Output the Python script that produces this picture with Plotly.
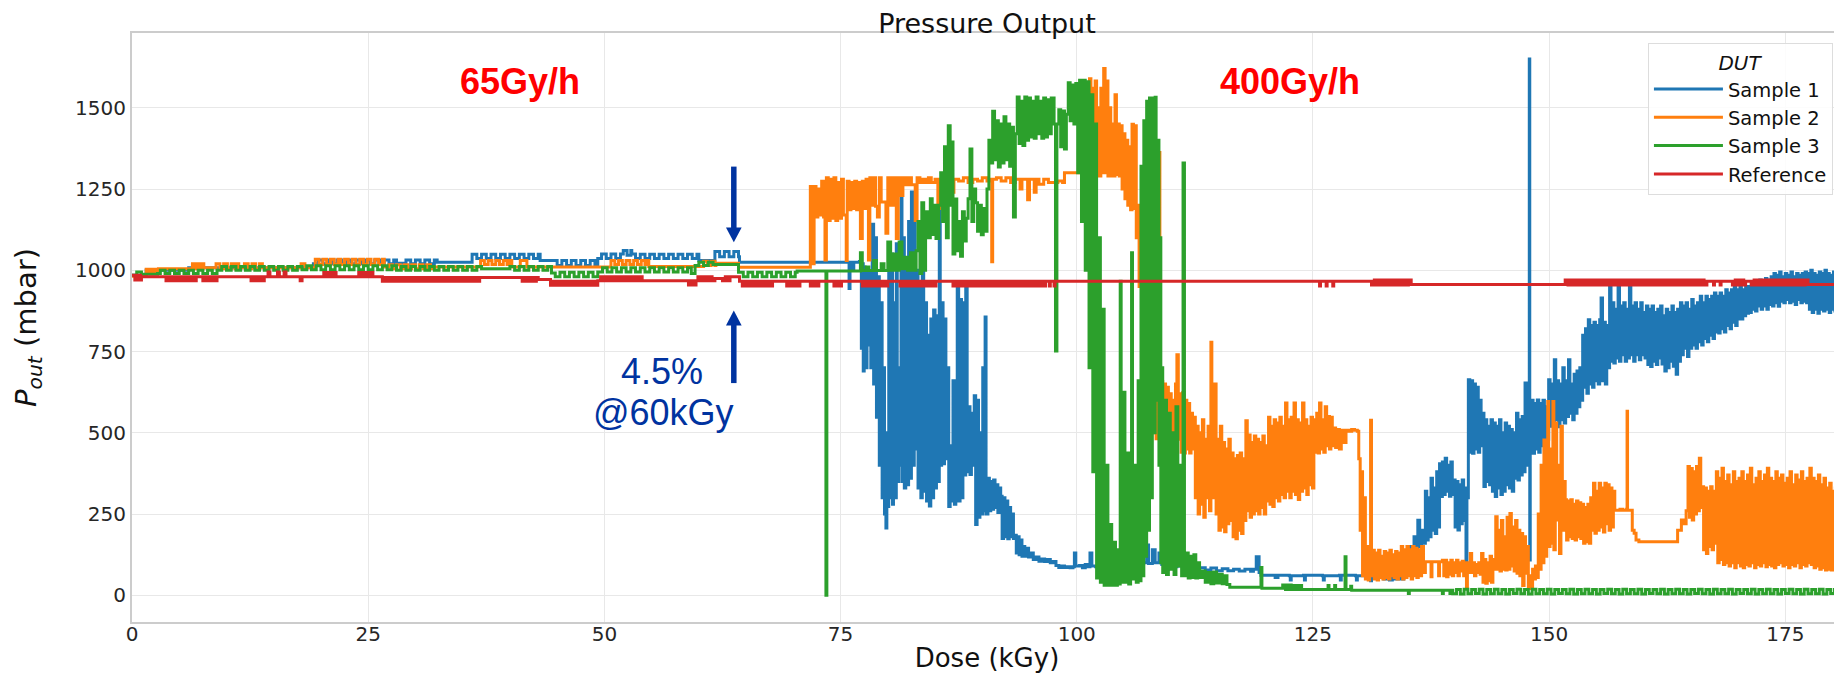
import plotly.graph_objects as go

# ---------------- data (dose kGy, pressure mbar) ----------------
sample1_points = [
    (0.0, 985), (1.5, 1000), (6.0, 1008), (19.0, 1008),
    (19.2, 1020), (19.7, 1032), (20.2, 1020), (20.7, 1032), (21.2, 1020), (21.7, 1032), (22.2, 1020), (22.7, 1032),
    (23.2, 1020), (23.7, 1032), (24.2, 1020), (24.7, 1032), (25.2, 1020), (25.7, 1032), (26.2, 1020), (26.7, 1032),
    (27.2, 1020), (27.7, 1032), (28.0, 1022), (28.6, 1022),
    (29.0, 1032), (29.5, 1020), (30.0, 1032), (30.5, 1020), (31.0, 1032), (31.5, 1020), (32.0, 1032), (32.3, 1025), (35.7, 1025),
    (36.0, 1049), (36.5, 1036), (37.0, 1049), (37.5, 1036), (38.0, 1049), (38.5, 1036), (39.0, 1049), (39.5, 1036),
    (40.0, 1049), (40.5, 1036), (41.0, 1049), (41.5, 1036), (42.0, 1049), (42.5, 1036), (43.0, 1049), (43.2, 1030), (44.7, 1030),
    (45.0, 1015), (45.5, 1030), (46.0, 1015), (46.5, 1030), (47.0, 1015), (47.5, 1030), (48.0, 1015), (48.5, 1030), (49.0, 1015),
    (49.3, 1036), (49.7, 1050), (50.2, 1036), (50.7, 1050), (51.2, 1036), (51.7, 1050),
    (52.0, 1061), (52.4, 1046), (52.8, 1061), (52.9, 1050),
    (53.3, 1036), (53.8, 1049), (54.3, 1036), (54.8, 1049), (55.3, 1036), (55.8, 1049), (56.3, 1036), (56.8, 1049),
    (57.3, 1036), (57.8, 1049), (58.3, 1036), (58.8, 1049), (59.3, 1036), (59.8, 1049), (60.0, 1030), (61.4, 1030),
    (61.7, 1058), (62.2, 1042), (62.7, 1058), (63.2, 1042), (63.7, 1058), (64.2, 1042), (64.3, 1025), (75.8, 1025),
    (75.9, 944), (76.0, 1025), (76.3, 1005), (76.4, 1025), (77.0, 1027),
    (77.1, 1027), (77.2, 760), (77.3, 1020), (77.4, 690), (77.5, 1010), (77.6, 700), (77.8, 1000), (77.9, 770), (78.0, 990),
    (78.2, 700), (78.35, 1142), (78.5, 650), (78.6, 1100), (78.8, 548), (78.9, 980), (79.1, 400), (79.2, 900), (79.4, 300),
    (79.5, 700), (79.65, 250), (79.8, 207), (79.9, 500),
    (80.0, 273), (80.1, 1000), (80.2, 300), (80.35, 1050), (80.5, 280), (80.6, 900), (80.75, 300), (80.9, 1082), (81.0, 350),
    (81.15, 700), (81.3, 400), (81.4, 1241), (81.5, 350),
    (81.6, 1100), (81.75, 330), (81.9, 1000), (82.05, 340), (82.2, 1150), (82.35, 360),
    (82.5, 1241), (82.65, 400), (82.8, 1230), (82.9, 450),
    (83.05, 1000), (83.2, 330), (83.35, 950), (83.5, 300), (83.65, 1000), (83.8, 320), (83.95, 900), (84.1, 290),
    (84.25, 800), (84.4, 275), (84.55, 850), (84.7, 300),
    (84.85, 878), (85.0, 330), (85.15, 860), (85.3, 350), (85.45, 1258), (85.55, 400),
    (85.7, 900), (85.85, 405), (86.0, 850), (86.15, 420),
    (86.3, 700), (86.45, 273), (86.6, 460), (86.75, 290), (86.9, 660), (87.05, 280), (87.2, 450),
    (87.35, 945), (87.5, 290), (87.65, 910), (87.8, 300), (87.95, 900), (88.1, 370), (88.25, 950),
    (88.4, 380), (88.55, 580), (88.7, 372), (88.85, 560), (89.0, 400),
    (89.15, 614), (89.3, 218), (89.45, 600), (89.6, 240), (89.75, 500),
    (89.9, 250), (90.05, 700), (90.2, 260), (90.3, 856), (90.4, 250),
    (90.6, 360), (90.75, 260), (90.9, 350), (91.05, 265), (91.2, 355), (91.35, 270), (91.5, 340), (91.65, 255), (91.8, 330),
    (91.95, 305), (92.1, 175), (92.25, 300), (92.4, 180), (92.55, 290), (92.7, 174), (92.85, 270), (93.0, 180), (93.15, 250), (93.3, 175),
    (93.45, 185), (93.6, 130), (93.75, 180), (93.9, 125), (94.05, 170), (94.2, 120), (94.35, 150), (94.5, 120), (94.7, 145),
    (94.9, 118), (95.1, 130), (95.4, 110), (95.7, 118), (96.0, 105), (96.3, 112), (96.6, 104), (96.9, 110), (97.2, 100), (97.5, 104),
    (97.8, 92), (98.1, 86), (98.4, 90), (98.7, 86), (99.0, 88), (99.3, 85), (99.6, 88), (99.75, 130), (99.9, 90),
    (100.3, 92), (100.6, 85), (100.9, 95), (101.2, 88), (101.4, 130), (101.6, 90), (102.0, 88), (102.5, 92),
    (103.0, 100), (103.3, 95), (103.6, 120), (103.8, 98), (104.2, 110), (104.6, 95), (105.0, 140), (105.2, 100), (105.6, 160),
    (105.8, 100), (106.2, 163), (106.4, 105), (106.8, 150), (107.0, 100), (107.4, 155), (107.6, 98), (108.0, 140), (108.3, 100),
    (108.7, 130), (109.0, 95), (109.5, 92), (110.0, 88), (110.6, 90),
    (111.2, 82), (111.8, 88), (112.4, 78), (113.0, 85), (113.6, 78), (114.2, 84), (114.8, 76), (115.4, 82), (116.0, 76),
    (116.6, 80), (117.2, 75), (117.8, 80), (118.4, 74), (118.7, 80), (119.0, 119), (119.3, 70), (119.5, 62),
    (120.5, 62), (121.0, 55), (121.3, 62), (122.5, 60), (122.6, 47), (122.7, 60), (124.0, 62), (124.1, 47), (124.2, 62),
    (126.0, 60), (126.1, 47), (126.2, 60), (127.8, 62), (127.9, 47), (128.0, 62), (129.5, 60), (129.6, 47), (129.7, 60),
    (131.0, 60), (131.1, 45), (131.2, 60), (132.2, 68), (132.5, 50), (132.8, 68), (133.1, 47), (133.4, 68), (133.7, 50),
    (134.0, 65), (134.3, 50), (134.6, 70),
    (135.0, 100), (135.3, 150), (135.5, 98), (135.7, 180), (135.9, 120), (136.1, 231), (136.3, 150), (136.5, 200), (136.7, 160),
    (136.9, 320), (137.05, 170), (137.2, 300), (137.35, 180), (137.5, 360), (137.65, 200), (137.8, 330), (137.95, 190),
    (138.1, 380), (138.25, 210), (138.4, 405),
    (138.55, 304), (138.7, 410), (138.85, 310), (139.0, 422), (139.15, 320), (139.3, 400), (139.45, 305), (139.6, 410), (139.75, 310),
    (139.9, 355), (140.05, 210), (140.2, 350), (140.35, 201), (140.5, 340), (140.65, 220), (140.8, 355), (140.95, 230),
    (141.1, 330), (141.2, 104), (141.3, 300),
    (141.45, 663), (141.6, 440), (141.75, 660), (141.9, 437), (142.05, 650), (142.2, 450), (142.35, 640), (142.5, 440),
    (142.65, 600), (142.8, 460),
    (142.95, 560), (143.1, 335), (143.25, 540), (143.4, 350), (143.55, 520), (143.7, 340),
    (143.85, 540), (144.0, 320), (144.15, 530), (144.3, 304), (144.45, 520), (144.6, 330), (144.75, 540), (144.9, 310),
    (145.05, 500), (145.2, 320), (145.35, 530), (145.5, 340), (145.65, 520), (145.8, 330), (145.95, 510), (146.1, 320), (146.25, 500),
    (146.4, 360), (146.55, 560), (146.7, 355), (146.85, 540), (147.0, 370), (147.15, 550), (147.3, 380), (147.45, 653),
    (147.6, 400), (147.75, 520), (147.85, 500), (147.9, 1650), (147.95, 109), (148.0, 450),
    (148.15, 600), (148.3, 437), (148.45, 590), (148.6, 450), (148.75, 601), (148.9, 440), (149.05, 590), (149.2, 460),
    (149.35, 600), (149.5, 450), (149.65, 580), (149.8, 480),
    (149.95, 663), (150.1, 520), (150.25, 650), (150.4, 530), (150.55, 725), (150.7, 540), (150.85, 660), (151.0, 519),
    (151.15, 650), (151.3, 540), (151.45, 700), (151.6, 530), (151.75, 660), (151.9, 550), (152.05, 725), (152.2, 560),
    (152.35, 650), (152.5, 540), (152.65, 680), (152.8, 560), (152.95, 690), (153.1, 580), (153.25, 700), (153.4, 600),
    (153.55, 800), (153.7, 640), (153.85, 820), (154.0, 622), (154.15, 848), (154.3, 650), (154.45, 830), (154.6, 640),
    (154.75, 840), (154.9, 660), (155.05, 830), (155.2, 650), (155.35, 848), (155.5, 915), (155.65, 660), (155.8, 840),
    (155.95, 650), (156.1, 830), (156.25, 700), (156.4, 950),
    (156.55, 720), (156.7, 900), (156.85, 715), (157.0, 880), (157.15, 730), (157.3, 951), (157.45, 720), (157.6, 890),
    (157.75, 740), (157.9, 900), (158.05, 720), (158.2, 880), (158.35, 730), (158.5, 951), (158.65, 740), (158.8, 890),
    (158.95, 720), (159.1, 900), (159.25, 740), (159.4, 880), (159.55, 725), (159.7, 900), (159.85, 740), (160.0, 870),
    (160.15, 730), (160.3, 890),
    (160.45, 710), (160.6, 880), (160.75, 704), (160.9, 890), (161.05, 720), (161.2, 870), (161.35, 710), (161.5, 880),
    (161.65, 730), (161.8, 890), (161.95, 712), (162.1, 860), (162.25, 690), (162.4, 880), (162.55, 700), (162.7, 870),
    (162.85, 720), (163.0, 890), (163.15, 705), (163.3, 870), (163.45, 680), (163.6, 880), (163.75, 720),
    (163.9, 900), (164.05, 740), (164.2, 890), (164.35, 760), (164.5, 900), (164.65, 735), (164.8, 880), (164.95, 760),
    (165.1, 910), (165.25, 770), (165.4, 890), (165.55, 760), (165.7, 900), (165.85, 780), (166.0, 920), (166.15, 770),
    (166.3, 900), (166.45, 790), (166.6, 920), (166.75, 780), (166.9, 910), (167.05, 800), (167.2, 920), (167.35, 790),
    (167.5, 930), (167.65, 810), (167.8, 920), (167.95, 807), (168.1, 930), (168.25, 820), (168.4, 920), (168.55, 810),
    (168.7, 940), (168.85, 830), (169.0, 930), (169.15, 820), (169.3, 940), (169.45, 840), (169.6, 950), (169.75, 830),
    (169.9, 940), (170.05, 850), (170.2, 950), (170.35, 850), (170.5, 940), (170.65, 860), (170.8, 950),
    (170.95, 868), (171.1, 950), (171.25, 870), (171.4, 960), (171.55, 880), (171.7, 955), (171.85, 875), (172.0, 960),
    (172.15, 890), (172.3, 970), (172.45, 880), (172.6, 960), (172.75, 890), (172.9, 975), (173.05, 880), (173.2, 970),
    (173.35, 895), (173.5, 980), (173.65, 890),
    (173.8, 990), (173.95, 900), (174.1, 985), (174.25, 889), (174.4, 995), (174.55, 905), (174.7, 980), (174.85, 900),
    (175.0, 990), (175.15, 910), (175.3, 985), (175.45, 900), (175.6, 995), (175.75, 905), (175.9, 980), (176.05, 895),
    (176.2, 990), (176.35, 910), (176.5, 985), (176.65, 900), (176.8, 990), (176.95, 905), (177.1, 995), (177.25, 900),
    (177.4, 990), (177.55, 880), (177.7, 1000), (177.85, 870), (178.0, 990), (178.15, 880), (178.3, 985), (178.45, 868),
    (178.6, 995), (178.75, 880), (178.9, 990), (179.05, 875), (179.2, 1000), (179.35, 880), (179.5, 990), (179.65, 870),
    (179.8, 985), (179.95, 880), (180.1, 995), (180.25, 875), (180.4, 990), (180.55, 880), (180.7, 1000), (180.85, 870), (181.0, 990),
]

sample2_points = [
    (0.0, 982), (1.4, 982), (1.5, 1003), (1.8, 992), (2.1, 1003), (2.4, 992), (2.7, 1003), (2.8, 1005), (6.1, 1005),
    (6.4, 1020), (6.7, 1005), (7.0, 1020), (7.3, 1005), (7.5, 1020), (7.6, 1008), (8.7, 1008),
    (8.9, 1020), (9.3, 1005), (9.7, 1020), (10.1, 1005), (10.5, 1020), (10.9, 1005), (11.2, 1020), (11.3, 1008), (11.7, 1008),
    (11.9, 1020), (12.3, 1005), (12.7, 1020), (13.1, 1005), (13.5, 1020), (13.8, 1008), (17.7, 1008), (17.9, 1020), (18.3, 1008), (19.2, 1008),
    (19.4, 1034), (19.8, 1018), (20.2, 1034), (20.6, 1018), (21.0, 1034), (21.4, 1018), (21.8, 1034), (22.1, 1018), (22.5, 1034),
    (22.9, 1018), (23.3, 1034), (23.7, 1018), (24.1, 1034), (24.5, 1018), (24.9, 1034), (25.3, 1018), (25.7, 1034), (26.1, 1018),
    (26.5, 1034), (26.7, 1010),
    (27.2, 1017), (27.6, 1005), (28.0, 1017), (28.4, 1005), (28.8, 1017), (29.2, 1005), (29.6, 1017), (30.0, 1005), (30.4, 1017),
    (30.8, 1005), (31.2, 1017), (31.6, 1005), (31.8, 1010), (36.7, 1010),
    (36.9, 1030), (37.3, 1018), (37.7, 1030), (38.1, 1018), (38.5, 1030), (38.9, 1018), (39.3, 1030), (39.7, 1018), (40.0, 1030),
    (40.2, 1010), (41.0, 1010), (41.1, 1030), (41.7, 1030), (41.8, 1010), (50.5, 1010),
    (50.7, 1030), (51.1, 1018), (51.5, 1030), (51.9, 1018), (52.3, 1030), (52.7, 1018), (53.1, 1030), (53.5, 1018), (53.9, 1030),
    (54.3, 1018), (54.6, 1030), (54.7, 1012), (60.3, 1012),
    (60.5, 1028), (60.9, 1015), (61.3, 1028), (61.7, 1015), (61.8, 1022), (64.1, 1022), (64.2, 1009), (71.7, 1009),
    (71.8, 1258), (71.9, 1164), (72.0, 1258), (72.1, 1020), (72.2, 1258), (72.4, 1164), (72.6, 1250), (72.8, 1170), (73.0, 1274),
    (73.2, 1164), (73.35, 1032), (73.5, 1285), (73.7, 1153), (73.9, 1280), (74.1, 1160), (74.3, 1285), (74.5, 1153), (74.7, 1270),
    (74.9, 1160), (75.1, 1280), (75.3, 1170), (75.6, 1030), (75.7, 1274), (75.9, 1186), (76.1, 1270), (76.3, 1190), (76.5, 1274),
    (76.7, 1186), (76.9, 1270), (77.1, 1098), (77.3, 1274), (77.5, 1190), (77.7, 1280), (77.95, 1032), (78.1, 1285), (78.3, 1200),
    (78.5, 1285), (78.7, 1197), (78.9, 1164), (79.1, 1285), (79.3, 1210), (79.8, 1114), (80.0, 1285), (80.3, 1200), (80.6, 1285),
    (80.9, 1098), (81.1, 1285), (81.3, 1230), (81.6, 1285), (81.9, 1263), (82.2, 1285), (82.5, 1263), (82.9, 1153), (83.1, 1285),
    (83.4, 1270), (83.7, 1280), (84.0, 1270), (84.3, 1285), (84.6, 1270), (85.0, 1280), (85.3, 1190), (85.5, 1280), (86.0, 1270),
    (86.4, 1285), (86.7, 1240), (87.0, 1280), (87.5, 1275), (88.0, 1285), (88.5, 1270), (89.0, 1280), (89.5, 1275), (90.0, 1285),
    (90.5, 1275), (90.9, 1280), (91.0, 1026), (91.1, 1280), (91.5, 1285), (92.0, 1275), (92.5, 1285), (93.0, 1270), (93.5, 1280),
    (94.0, 1250), (94.2, 1280), (94.8, 1217), (95.0, 1280), (95.5, 1240), (95.7, 1280), (96.0, 1265), (96.5, 1280), (97.0, 1270),
    (97.5, 1270), (98.0, 1275), (98.5, 1270), (98.7, 1300), (99.5, 1300), (100.0, 1300), (101.2, 1300),
    (101.35, 1589), (101.5, 1300), (101.65, 1560), (101.8, 1290), (101.95, 1582), (102.1, 1300), (102.25, 1500), (102.4, 1290),
    (102.55, 1560), (102.7, 1300), (102.85, 1621), (103.0, 1300), (103.15, 1582), (103.3, 1290), (103.45, 1500), (103.6, 1290),
    (103.75, 1450), (103.9, 1290), (104.05, 1540), (104.2, 1295), (104.35, 1450), (104.5, 1290),
    (104.65, 1445), (104.8, 1250), (104.95, 1420), (105.1, 1220), (105.25, 1400), (105.4, 1200), (105.55, 1380), (105.7, 1186),
    (105.85, 1449), (106.0, 1190), (106.15, 1445),
    (106.3, 1100), (106.45, 1200), (106.6, 950), (106.75, 1150), (106.9, 850), (107.05, 1100), (107.2, 750), (107.35, 1050),
    (107.5, 650), (107.65, 950), (107.8, 560), (107.95, 900), (108.1, 500), (108.25, 800), (108.4, 482), (108.55, 700),
    (108.7, 1362), (108.8, 500),
    (108.95, 658), (109.1, 470), (109.25, 650), (109.4, 480), (109.55, 640), (109.7, 470), (109.85, 620), (110.0, 480),
    (110.15, 600), (110.3, 470), (110.45, 650), (110.6, 740), (110.75, 480), (110.9, 620),
    (111.05, 440), (111.2, 623), (111.35, 438), (111.5, 600), (111.65, 450), (111.8, 590), (111.95, 438), (112.1, 560), (112.25, 450),
    (112.4, 548), (112.55, 300), (112.7, 520), (112.85, 250), (113.0, 500), (113.15, 280), (113.3, 540), (113.45, 240),
    (113.6, 480), (113.75, 300), (113.9, 520), (114.05, 260), (114.2, 779), (114.3, 300),
    (114.45, 493), (114.6, 650), (114.75, 250), (114.9, 480), (115.05, 200), (115.2, 520), (115.35, 210), (115.5, 470),
    (115.65, 196), (115.8, 450), (115.95, 220), (116.1, 480), (116.25, 230),
    (116.4, 438), (116.55, 180), (116.7, 420), (116.85, 174), (117.0, 430), (117.15, 200), (117.3, 438), (117.45, 190),
    (117.6, 420), (117.75, 230), (117.9, 537),
    (118.05, 260), (118.2, 493), (118.35, 240), (118.5, 470), (118.65, 250), (118.8, 490), (118.95, 260), (119.1, 480),
    (119.25, 250), (119.4, 470), (119.55, 270), (119.7, 490), (119.85, 250), (120.0, 460),
    (120.15, 290), (120.3, 548), (120.45, 280), (120.6, 520), (120.75, 273), (120.9, 540), (121.05, 300), (121.2, 530),
    (121.35, 290), (121.5, 548), (121.65, 310), (121.8, 520), (121.95, 300), (122.1, 592), (122.25, 320),
    (122.4, 540), (122.55, 300), (122.7, 548), (122.85, 320), (123.0, 592), (123.15, 310), (123.3, 540), (123.45, 295),
    (123.6, 530), (123.75, 320), (123.9, 592), (124.05, 330), (124.2, 540), (124.35, 310), (124.5, 520), (124.65, 340),
    (124.8, 548), (124.95, 330),
    (125.1, 540), (125.25, 440), (125.4, 560), (125.55, 438), (125.7, 592), (125.85, 450), (126.0, 540), (126.15, 440),
    (126.3, 580), (126.45, 460), (126.6, 550), (126.75, 450), (126.9, 548), (127.05, 460),
    (127.2, 515), (127.4, 455), (127.6, 510), (127.8, 450), (128.0, 508), (128.2, 470), (128.5, 508), (128.8, 505),
    (129.1, 510), (129.4, 508), (129.7, 505),
    (129.85, 420), (130.0, 200), (130.1, 380), (130.25, 60), (130.4, 300), (130.55, 50), (130.7, 150), (130.85, 47),
    (131.0, 100), (131.1, 539), (131.2, 60),
    (131.35, 139), (131.5, 50), (131.65, 130), (131.8, 47), (131.95, 139), (132.1, 55), (132.25, 120), (132.4, 50),
    (132.55, 135), (132.7, 55), (132.85, 130), (133.0, 50), (133.15, 139), (133.3, 60), (133.45, 125), (133.6, 55),
    (133.75, 135), (133.9, 50), (134.05, 130),
    (134.2, 60), (134.35, 150), (134.5, 50), (134.65, 140), (134.8, 55), (134.95, 150), (135.1, 60), (135.25, 140),
    (135.4, 50), (135.55, 150), (135.7, 60), (135.85, 145), (136.0, 55), (136.15, 140), (136.3, 60), (136.5, 150), (136.7, 70),
    (136.9, 103), (137.4, 103), (137.5, 57), (137.6, 103), (138.2, 103), (138.3, 60), (138.4, 103),
    (138.7, 108), (138.85, 60), (139.0, 108), (139.15, 57), (139.3, 100), (139.45, 65), (139.6, 108), (139.75, 60),
    (139.9, 100), (140.05, 70), (140.2, 108), (140.35, 60), (140.5, 100), (140.65, 75), (140.8, 105), (140.95, 60),
    (141.1, 100), (141.25, 21),
    (141.35, 100), (141.5, 70), (141.65, 129), (141.8, 70), (141.95, 100), (142.1, 60), (142.25, 95), (142.4, 70),
    (142.55, 100), (142.7, 65),
    (142.85, 129), (143.0, 40), (143.15, 110), (143.3, 37), (143.45, 100), (143.6, 45), (143.75, 120), (143.9, 40), (144.05, 110),
    (144.2, 80), (144.35, 242), (144.5, 80), (144.65, 200), (144.8, 75), (144.95, 230), (145.1, 80), (145.25, 180),
    (145.4, 78), (145.55, 240),
    (145.7, 80), (145.85, 252), (146.0, 90), (146.15, 210), (146.3, 75), (146.45, 230), (146.6, 68),
    (146.75, 200), (146.9, 60), (147.05, 190), (147.2, 30), (147.35, 180), (147.5, 68), (147.65, 150), (147.8, 21),
    (147.95, 60), (148.1, 21),
    (148.25, 80), (148.4, 50), (148.55, 90), (148.7, 55),
    (148.85, 250), (149.0, 80), (149.15, 400), (149.3, 100), (149.45, 478), (149.6, 120), (149.75, 300), (149.85, 596),
    (149.95, 150), (150.1, 450), (150.25, 160), (150.4, 596), (150.5, 140),
    (150.65, 530), (150.8, 232), (150.95, 400), (151.1, 129), (151.25, 520), (151.4, 200), (151.55, 350),
    (151.7, 294), (151.85, 170), (152.0, 290), (152.15, 180), (152.3, 294), (152.45, 175), (152.6, 280), (152.75, 170),
    (152.9, 290), (153.05, 180), (153.2, 285), (153.35, 175),
    (153.5, 280), (153.65, 160), (153.8, 270), (153.95, 165), (154.1, 280), (154.25, 160), (154.4, 300),
    (154.55, 200), (154.7, 345), (154.85, 191), (155.0, 320), (155.15, 200), (155.3, 345), (155.45, 210), (155.6, 330),
    (155.75, 195), (155.9, 345), (156.05, 220), (156.2, 340), (156.35, 200), (156.5, 330), (156.65, 210), (156.8, 320),
    (156.95, 262), (157.2, 262), (157.5, 265), (157.8, 262), (158.2, 265), (158.25, 566), (158.3, 262), (158.6, 262),
    (158.8, 200), (159.0, 191), (159.2, 170), (159.5, 165), (161.0, 165), (162.5, 165), (163.2, 165),
    (163.6, 200), (164.0, 232), (164.3, 220), (164.5, 260),
    (164.7, 396), (164.85, 240), (165.0, 390), (165.15, 232), (165.3, 380), (165.45, 250), (165.6, 396), (165.75, 260),
    (165.9, 422), (166.05, 270),
    (166.2, 334), (166.35, 140), (166.5, 330), (166.65, 129), (166.8, 320), (166.95, 150), (167.1, 334), (167.25, 140), (167.4, 320),
    (167.55, 160), (167.7, 380), (167.85, 100), (168.0, 360), (168.15, 110), (168.3, 391), (168.45, 95), (168.6, 350),
    (168.75, 100), (168.9, 370), (169.05, 90), (169.2, 340), (169.35, 100), (169.5, 380), (169.65, 85), (169.8, 350),
    (169.95, 100), (170.1, 360), (170.25, 90), (170.4, 380), (170.55, 85), (170.7, 350), (170.85, 95), (171.0, 370),
    (171.15, 90), (171.3, 391), (171.45, 100), (171.6, 340), (171.75, 85), (171.9, 360), (172.05, 95), (172.2, 380),
    (172.35, 90), (172.5, 350), (172.65, 100), (172.8, 370), (172.95, 88), (173.1, 391), (173.25, 95), (173.4, 360),
    (173.55, 90), (173.7, 350), (173.85, 85), (174.0, 380), (174.15, 95), (174.3, 360), (174.45, 100), (174.6, 370),
    (174.75, 90), (174.9, 345), (175.05, 95), (175.2, 360), (175.35, 85), (175.5, 380), (175.65, 95), (175.8, 340),
    (175.95, 90), (176.1, 370), (176.25, 100), (176.4, 355), (176.55, 85), (176.7, 380), (176.85, 95), (177.0, 350),
    (177.15, 90), (177.3, 360), (177.45, 100), (177.6, 391), (177.75, 95), (177.9, 360), (178.05, 85), (178.2, 350),
    (178.35, 90), (178.5, 370), (178.65, 80), (178.8, 340), (178.95, 85), (179.1, 360), (179.25, 78), (179.4, 330),
    (179.55, 80), (179.7, 345), (179.85, 78), (180.0, 320), (180.15, 80), (180.3, 330), (180.45, 78), (180.6, 310),
    (180.75, 80), (180.9, 300), (181.0, 90),
]

sample3_points = [
    (0.0, 985), (0.5, 995), (1.0, 988), (2.7, 990),
    (3.0, 1000), (3.5, 990), (4.0, 1000), (4.5, 990), (5.0, 1000), (5.5, 990), (6.0, 1000), (6.5, 990), (7.0, 1000),
    (7.5, 990), (8.0, 1000), (8.5, 990), (9.0, 1000),
    (9.5, 1012), (10.0, 1000), (10.5, 1012), (11.0, 1000), (11.5, 1012), (12.0, 1000), (12.5, 1012), (13.0, 1000),
    (13.5, 1012), (14.0, 1000), (14.5, 1012), (15.0, 1000), (15.5, 1012), (16.0, 1000), (16.5, 1012), (17.0, 1000), (17.5, 1012),
    (18.0, 1002), (18.5, 1014), (19.0, 1002), (19.5, 1014), (20.0, 1002), (20.5, 1014), (21.0, 1002), (21.5, 1014),
    (22.0, 1002), (22.5, 1014), (23.0, 1002), (23.5, 1014), (24.0, 1002), (24.5, 1014), (25.0, 1002), (25.5, 1014),
    (26.0, 1002), (26.5, 1014), (27.0, 1002), (27.5, 1014), (28.0, 1000),
    (28.5, 1012), (29.0, 1000), (29.5, 1012), (30.0, 1000), (30.5, 1012), (31.0, 1000), (31.5, 1012), (32.0, 1000),
    (32.5, 1012), (33.0, 1000), (33.5, 1012), (34.0, 1000), (34.5, 1012), (35.0, 1000), (35.5, 1012), (36.0, 1000),
    (36.5, 1012), (37.0, 1005), (39.6, 1005),
    (40.0, 1012), (40.5, 1000), (41.0, 1012), (41.5, 1000), (42.0, 1012), (42.5, 1000), (43.0, 1012), (43.5, 1000),
    (44.0, 1012), (44.4, 992),
    (44.8, 980), (45.3, 994), (45.8, 980), (46.3, 994), (46.8, 980), (47.3, 994), (47.8, 980), (48.3, 994), (48.8, 980), (49.3, 995),
    (49.8, 1008), (50.3, 995), (50.8, 1008), (51.3, 995), (51.8, 1008), (52.3, 995), (52.8, 1008), (53.3, 995), (53.8, 1008),
    (54.3, 995), (54.8, 1008), (55.3, 995), (55.8, 1008), (56.3, 995), (56.8, 1008), (57.3, 995), (57.8, 1008), (58.3, 995),
    (58.8, 1008), (59.2, 990), (59.6, 1015), (60.0, 1025), (60.5, 1015), (61.0, 1025), (61.5, 1018), (64.0, 1018),
    (64.2, 994), (64.7, 980), (65.2, 994), (65.7, 980), (66.2, 994), (66.7, 980), (67.2, 994), (67.7, 980), (68.2, 994),
    (68.7, 980), (69.2, 994), (69.7, 980), (70.2, 994), (70.4, 998), (73.35, 998), (73.45, 0), (73.55, 998), (77.0, 998),
    (77.1, 1054), (77.3, 999), (77.7, 1010), (78.0, 999), (78.5, 1030), (78.8, 999), (79.3, 1020), (79.6, 999),
    (80.0, 1087), (80.3, 1000), (80.6, 1050), (80.9, 1000), (81.2, 1087), (81.5, 1005), (81.8, 1040), (82.1, 1000),
    (82.4, 1054), (82.7, 1000), (83.0, 1060),
    (83.2, 1150), (83.4, 990), (83.6, 1208), (83.8, 1000), (84.0, 1180),
    (84.3, 1100), (84.5, 1220), (84.7, 1110), (84.9, 1200), (85.1, 1098),
    (85.4, 1200), (85.6, 1300), (85.8, 1150), (86.0, 1380), (86.2, 1100), (86.4, 1445), (86.6, 1200), (86.8, 1395), (86.9, 1050),
    (87.1, 1219), (87.3, 1060), (87.5, 1150), (87.7, 1043), (87.9, 1180), (88.1, 1090), (88.3, 1160),
    (88.5, 1220), (88.7, 1373), (88.9, 1150), (89.1, 1250),
    (89.3, 1208), (89.5, 1120), (89.7, 1200), (89.9, 1109), (90.1, 1190), (90.3, 1120), (90.5, 1250),
    (90.7, 1400), (90.9, 1330), (91.1, 1489), (91.3, 1340), (91.5, 1460), (91.7, 1318), (91.9, 1450),
    (92.1, 1330), (92.3, 1472), (92.5, 1340), (92.7, 1450), (92.9, 1320), (93.1, 1440), (93.3, 1164), (93.5, 1420),
    (93.7, 1533), (93.9, 1390), (94.1, 1520), (94.3, 1384), (94.5, 1533), (94.7, 1400),
    (94.9, 1530), (95.1, 1410), (95.3, 1520), (95.5, 1406), (95.7, 1533), (95.9, 1420), (96.1, 1520), (96.3, 1406),
    (96.5, 1530), (96.7, 1410), (96.9, 1525), (97.1, 1420), (97.3, 1530),
    (97.6, 1450), (97.75, 752), (97.9, 1450),
    (98.1, 1494), (98.3, 1380), (98.5, 1490), (98.7, 1373), (98.9, 1480),
    (99.1, 1577), (99.3, 1460), (99.5, 1570), (99.7, 1450), (99.9, 1575),
    (100.1, 1300), (100.3, 1585), (100.5, 1150), (100.7, 1585), (100.9, 1000), (101.1, 1580), (101.3, 700), (101.5, 1540),
    (101.7, 380), (101.9, 1450), (102.1, 53), (102.3, 1100), (102.5, 40), (102.7, 880), (102.9, 31), (103.1, 400),
    (103.3, 31), (103.5, 218), (103.7, 31), (103.9, 163), (104.1, 31), (104.3, 140), (104.5, 35),
    (104.6, 966), (104.7, 40), (104.9, 400), (105.0, 625), (105.1, 40), (105.3, 438), (105.5, 35), (105.7, 300),
    (105.8, 1054), (105.9, 50), (106.1, 400),
    (106.3, 40), (106.5, 660), (106.6, 45), (106.8, 1320), (106.9, 60), (107.1, 1460), (107.2, 120), (107.4, 1520),
    (107.5, 200), (107.7, 1530), (107.8, 300), (108.0, 1530), (108.1, 500), (108.3, 1532), (108.4, 600),
    (108.6, 1400), (108.7, 400), (108.8, 1100), (108.9, 100), (109.0, 700), (109.1, 70), (109.3, 600), (109.5, 64),
    (109.7, 560), (109.9, 80), (110.1, 500), (110.3, 64), (110.5, 580), (110.7, 90), (110.9, 400), (111.1, 60),
    (111.25, 1330), (111.4, 60),
    (111.6, 130), (111.8, 53), (112.0, 120), (112.2, 55), (112.4, 125), (112.6, 53), (112.8, 100), (113.0, 55),
    (113.3, 75), (113.6, 40), (113.9, 70), (114.2, 36), (114.5, 72), (114.8, 38), (115.1, 65), (115.4, 36), (115.7, 60), (115.9, 33),
    (116.2, 25), (119.4, 25), (119.5, 86), (119.6, 22), (121.6, 22), (121.8, 32), (122.1, 18), (122.4, 32), (122.7, 18),
    (123.0, 30), (123.3, 18), (123.6, 30), (123.8, 18), (126.5, 18), (126.6, 30), (126.7, 18), (127.2, 18), (127.3, 30),
    (127.4, 18), (128.3, 18), (128.4, 119), (128.5, 18), (128.9, 18), (129.0, 28), (129.1, 16), (135.0, 16), (135.1, 6),
    (135.2, 16), (138.6, 16), (138.7, 6), (138.8, 16), (139.4, 16), (139.5, 6), (139.6, 16),
    (139.8, 5), (140.2, 18), (140.6, 4), (141.0, 19), (141.4, 5), (141.8, 18), (142.2, 6), (142.6, 19), (143.0, 4),
    (143.4, 18), (143.8, 5), (144.2, 19), (144.6, 5), (145.0, 18), (145.4, 4), (145.8, 18), (146.2, 6), (146.6, 19),
    (147.0, 5), (147.4, 18), (147.8, 4), (148.2, 19), (148.6, 5), (149.0, 18), (149.4, 5), (149.8, 19), (150.2, 4),
    (150.6, 18), (151.0, 6), (151.4, 18), (151.8, 5), (152.2, 19), (152.6, 4), (153.0, 18), (153.4, 5), (153.8, 19),
    (154.2, 5), (154.6, 18), (155.0, 4), (155.4, 18), (155.8, 6), (156.2, 19), (156.6, 5), (157.0, 18), (157.4, 4),
    (157.8, 19), (158.2, 5), (158.6, 18), (159.0, 5), (159.4, 19), (159.8, 4), (160.2, 18), (160.6, 6), (161.0, 18),
    (161.4, 5), (161.8, 19), (162.2, 4), (162.6, 18), (163.0, 5), (163.4, 19), (163.8, 5), (164.2, 18), (164.6, 4),
    (165.0, 18), (165.4, 6), (165.8, 19), (166.2, 5), (166.6, 18), (167.0, 4), (167.4, 19), (167.8, 5), (168.2, 18),
    (168.6, 5), (169.0, 19), (169.4, 4), (169.8, 18), (170.2, 6), (170.6, 18), (171.0, 5), (171.4, 19), (171.8, 4),
    (172.2, 18), (172.6, 5), (173.0, 19), (173.4, 5), (173.8, 18), (174.2, 4), (174.6, 18), (175.0, 6), (175.4, 19),
    (175.8, 5), (176.2, 18), (176.6, 4), (177.0, 19), (177.4, 5), (177.8, 18), (178.2, 5), (178.6, 19), (179.0, 4),
    (179.4, 18), (179.8, 6), (180.2, 18), (180.6, 5), (181.0, 19),
]

reference_points = [
    (0.0, 985), (0.3, 970), (0.6, 985), (0.9, 970), (1.0, 980), (3.4, 980),
    (3.6, 968), (3.9, 980), (4.2, 968), (4.5, 980), (4.8, 968), (5.1, 980), (5.4, 968), (5.7, 980), (6.0, 968), (6.3, 980),
    (6.6, 968), (6.8, 980), (7.3, 980),
    (7.5, 968), (7.8, 980), (8.1, 968), (8.4, 980), (8.7, 968), (9.0, 980), (12.4, 980),
    (12.6, 968), (12.9, 980), (13.2, 968), (13.5, 980), (13.8, 968), (14.0, 980),
    (14.3, 980), (14.4, 995), (14.6, 980), (15.3, 980), (15.4, 995), (15.6, 980), (16.0, 980), (16.1, 995), (16.3, 980),
    (17.7, 980), (17.8, 968), (18.0, 980), (20.1, 980),
    (20.3, 993), (20.6, 980), (20.9, 993), (21.2, 980), (21.5, 993), (21.6, 980), (23.8, 980),
    (24.0, 993), (24.3, 980), (24.6, 993), (24.9, 980), (25.2, 993), (25.5, 980), (26.2, 980),
    (26.5, 966), (26.8, 978), (27.1, 966), (27.4, 978), (27.7, 966), (28.0, 978), (28.3, 966), (28.6, 978), (28.9, 966),
    (29.2, 978), (29.5, 966), (29.8, 978), (30.1, 966), (30.4, 978), (30.7, 966), (31.0, 978), (31.3, 966), (31.6, 978),
    (31.9, 966), (32.2, 978), (32.5, 966), (32.8, 978), (33.1, 966), (33.4, 978), (33.7, 966), (34.0, 978), (34.3, 966),
    (34.6, 978), (34.9, 966), (35.2, 978), (35.5, 966), (35.8, 978), (36.1, 966), (36.4, 978), (36.7, 966), (36.8, 978), (41.0, 978),
    (41.3, 966), (41.6, 978), (41.9, 966), (42.2, 978), (42.5, 966), (42.8, 978), (43.0, 972), (44.0, 972),
    (44.3, 954), (44.6, 966), (44.9, 954), (45.2, 966), (45.5, 954), (45.8, 966), (46.1, 954), (46.4, 966), (46.7, 954),
    (47.0, 966), (47.3, 954), (47.6, 966), (47.9, 954), (48.2, 966), (48.5, 954), (48.8, 966), (49.1, 954), (49.3, 968),
    (49.6, 980), (49.9, 968), (50.2, 980), (50.5, 968), (50.8, 980), (51.1, 968), (51.4, 980), (51.7, 968), (52.0, 980),
    (52.3, 968), (52.6, 980), (52.9, 968), (53.2, 980), (53.5, 968), (53.8, 980), (54.0, 968), (58.7, 968),
    (58.9, 955), (59.2, 968), (59.5, 955), (59.7, 968),
    (59.9, 980), (60.2, 968), (60.5, 980), (60.8, 968), (61.1, 980), (61.4, 968), (61.7, 975), (62.3, 975), (62.5, 968),
    (62.8, 980), (63.1, 968), (63.3, 980), (64.2, 980),
    (64.3, 966), (64.6, 952), (64.9, 966), (65.2, 952), (65.5, 966), (65.8, 952), (66.1, 966), (66.4, 952), (66.7, 966),
    (67.0, 952), (67.3, 966), (67.6, 952), (67.8, 966), (69.0, 966),
    (69.3, 952), (69.6, 966), (69.9, 952), (70.2, 966), (70.5, 952), (70.7, 966), (71.5, 966), (71.8, 952), (72.1, 966),
    (72.4, 952), (72.7, 966), (74.0, 966), (74.3, 952), (74.6, 966), (74.9, 952), (75.1, 966), (77.0, 966),
    (77.3, 952), (77.6, 966), (77.9, 952), (78.2, 966), (78.5, 952), (78.8, 966), (79.1, 952), (79.4, 966), (79.7, 952),
    (80.0, 966), (81.0, 966),
    (81.3, 952), (81.6, 966), (81.9, 952), (82.2, 966), (82.5, 952), (82.8, 966), (83.1, 952), (83.4, 966), (83.7, 952),
    (84.0, 966), (84.3, 952), (84.6, 966), (84.9, 952), (85.1, 966), (86.6, 966),
    (86.9, 952), (87.2, 966), (87.5, 952), (87.8, 966), (88.1, 952), (88.4, 966), (88.7, 952), (89.0, 966), (89.3, 952),
    (89.6, 966), (89.9, 952), (90.2, 966), (90.5, 952), (90.8, 966), (91.1, 952), (91.4, 966), (91.7, 952), (92.0, 966),
    (92.3, 952), (92.6, 966), (92.9, 952), (93.2, 966), (93.5, 952), (93.8, 966), (94.1, 952), (94.4, 966), (94.7, 952),
    (95.0, 966), (95.3, 952), (95.6, 966), (95.9, 952), (96.2, 966), (96.5, 952), (96.7, 966),
    (97.0, 966), (97.1, 952), (97.2, 966), (97.5, 966), (97.6, 952), (97.7, 966),
    (125.6, 966), (125.7, 952), (125.8, 966), (126.3, 966), (126.4, 952), (126.5, 966), (127.0, 966), (127.1, 952),
    (127.2, 966), (130.9, 966),
    (131.2, 955), (131.5, 970), (131.8, 955), (132.1, 970), (132.4, 955), (132.7, 970), (133.0, 955), (133.3, 970),
    (133.6, 955), (133.9, 970), (134.2, 955), (134.5, 970), (134.8, 955), (135.1, 970), (135.4, 956), (151.4, 956),
    (151.7, 970), (152.0, 955), (152.3, 970), (152.6, 955), (152.9, 970), (153.2, 955), (153.5, 970), (153.8, 955),
    (154.1, 970), (154.4, 955), (154.7, 970), (155.0, 955), (155.3, 970), (155.6, 955), (155.9, 970), (156.2, 955),
    (156.5, 970), (156.8, 955), (157.1, 970), (157.4, 955), (157.7, 970), (158.0, 955), (158.3, 970), (158.6, 955),
    (158.9, 970), (159.2, 955), (159.5, 970), (159.8, 955), (160.1, 970), (160.4, 955), (160.7, 970), (161.0, 955),
    (161.3, 970), (161.6, 955), (161.9, 970), (162.2, 955), (162.5, 970), (162.8, 955), (163.1, 970), (163.4, 955),
    (163.7, 970), (164.0, 955), (164.3, 970), (164.6, 955), (164.9, 970), (165.2, 955), (165.5, 970), (165.8, 955),
    (166.1, 970), (166.4, 955), (166.7, 966), (167.3, 966), (167.4, 955), (167.5, 966), (168.0, 966), (168.1, 955),
    (168.2, 966), (169.1, 966),
    (169.4, 955), (169.7, 970), (170.0, 955), (170.3, 970), (170.6, 955), (170.8, 966), (171.2, 966), (171.4, 955),
    (171.7, 970), (172.0, 955), (172.3, 970), (172.6, 955), (172.9, 970), (173.2, 955), (173.5, 970), (173.8, 955),
    (174.1, 970), (174.4, 955), (174.7, 970), (175.0, 955), (175.3, 970), (175.6, 955), (175.9, 970), (176.2, 955),
    (176.5, 970), (176.8, 955), (177.1, 970), (177.4, 956), (181.0, 956),
]

series_names = ["Sample 1", "Sample 2", "Sample 3", "Reference"]
series_colors = ["#1f77b4", "#ff7f0e", "#2ca02c", "#d62728"]
x_ticks = [0, 25, 50, 75, 100, 125, 150, 175]
y_ticks = [0, 250, 500, 750, 1000, 1250, 1500]

# ---------------- figure ----------------
# the page adds an 8 px body margin, so the figure is 8 px smaller than the window
FIG_W, FIG_H = 1834, 665

fig = go.Figure()
for name, pts, color in zip(series_names,
                            [sample1_points, sample2_points, sample3_points, reference_points],
                            series_colors):
    dose, pout = zip(*pts)
    fig.add_trace(go.Scatter(x=list(dose), y=list(pout), mode="lines", name=name,
                             line=dict(color=color, width=3.0, shape="hv"), hoverinfo="skip"))

tick_font = dict(family="DejaVu Sans", size=20, color="#262626")
blue_txt = "#0033a0"

annotations = [
    dict(x=41.1, y=1580, xref="x", yref="y", text="<b>65Gy/h</b>", showarrow=False,
         font=dict(family="Liberation Sans, Arial", size=36, color="#ff0000"), xanchor="center", yanchor="middle"),
    dict(x=122.6, y=1580, xref="x", yref="y", text="<b>400Gy/h</b>", showarrow=False,
         font=dict(family="Liberation Sans, Arial", size=36, color="#ff0000"), xanchor="center", yanchor="middle"),
    dict(x=56.1, y=689, xref="x", yref="y", text="4.5%", showarrow=False,
         font=dict(family="Liberation Sans, Arial", size=36, color=blue_txt), xanchor="center", yanchor="middle"),
    dict(x=56.3, y=562, xref="x", yref="y", text="@60kGy", showarrow=False,
         font=dict(family="Liberation Sans, Arial", size=36, color=blue_txt), xanchor="center", yanchor="middle"),
]

# the two blue arrows pointing at the 4.5 % gap (shaft + head)
arrow_x = 63.7
shapes = [
    dict(type="line", xref="x", yref="y", x0=arrow_x, x1=arrow_x, y0=1319, y1=1128,
         line=dict(color=blue_txt, width=5.5)),
    dict(type="path", xref="x", yref="y",
         path=f"M {arrow_x - 0.83},1132 L {arrow_x + 0.83},1132 L {arrow_x},1086 Z",
         fillcolor=blue_txt, line=dict(width=0)),
    dict(type="line", xref="x", yref="y", x0=arrow_x, x1=arrow_x, y0=653, y1=834,
         line=dict(color=blue_txt, width=5.5)),
    dict(type="path", xref="x", yref="y",
         path=f"M {arrow_x - 0.83},830 L {arrow_x + 0.83},830 L {arrow_x},876 Z",
         fillcolor=blue_txt, line=dict(width=0)),
]

fig.update_layout(
    width=FIG_W, height=FIG_H,
    margin=dict(l=124, r=0, t=25, b=51, autoexpand=False),
    paper_bgcolor="white", plot_bgcolor="white",
    title=dict(text="Pressure Output", x=0.5, xref="paper", xanchor="center",
               y=1 - 16 / FIG_H, yref="container", yanchor="middle",
               font=dict(family="DejaVu Sans", size=27, color="#111111")),
    xaxis=dict(range=[0, 181], tickvals=x_ticks, ticktext=[str(v) for v in x_ticks],
               showgrid=True, gridcolor="#e8e8e8", gridwidth=1, zeroline=False,
               showline=True, linecolor="#cccccc", linewidth=2, mirror=True,
               ticks="", tickfont=tick_font, ticklabelstandoff=-7,
               title=dict(text="Dose (kGy)", standoff=7,
                          font=dict(family="DejaVu Sans", size=26, color="#111111"))),
    yaxis=dict(range=[-82, 1730], tickvals=y_ticks, ticktext=[str(v) for v in y_ticks],
               showgrid=True, gridcolor="#e8e8e8", gridwidth=1, zeroline=False,
               showline=True, linecolor="#cccccc", linewidth=2, mirror=True,
               ticks="", tickfont=tick_font,
               title=dict(text="<i>P</i><sub><i>out</i></sub> (mbar)", standoff=30,
                          font=dict(family="DejaVu Sans", size=29, color="#111111"))),
    legend=dict(x=0.9947, y=0.9835, xanchor="right", yanchor="top",
                bgcolor="rgba(255,255,255,0.85)", bordercolor="#dddddd", borderwidth=1,
                font=dict(family="DejaVu Sans", size=19.5, color="#111111"),
                title=dict(text="<i>DUT</i>", side="top center",
                           font=dict(family="DejaVu Sans", size=20, color="#111111")),
                itemwidth=69, tracegroupgap=0),
    annotations=annotations,
    shapes=shapes,
    showlegend=True,
)

fig.write_html("out.html")
